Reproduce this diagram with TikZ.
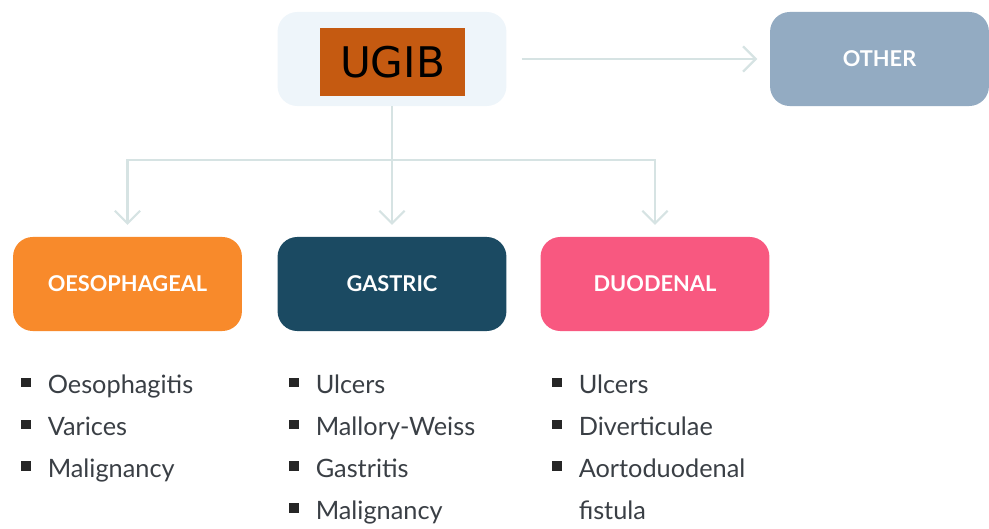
\documentclass[tikz,border=0pt]{standalone}
\usepackage{fontspec}
\setmainfont{Lato}
\newfontfamily\ugibfont{DejaVu Sans}
\usetikzlibrary{arrows.meta}

\definecolor{paleblue}{HTML}{EEF5FA}
\definecolor{linkgrey}{HTML}{D6E3E3}
\definecolor{othergrey}{HTML}{93ABC2}
\definecolor{oesoorange}{HTML}{F88A2B}
\definecolor{gastricteal}{HTML}{1B4A62}
\definecolor{duodpink}{HTML}{F85880}
\definecolor{ugibbrown}{HTML}{C55A11}
\definecolor{listgrey}{HTML}{3A3F45}

\newcommand{\sqbullet}{\textcolor{black!85}{\raisebox{0.25em}{\rule{0.38em}{0.38em}}}}

\begin{document}
\begin{tikzpicture}[x=0.025cm,y=0.025cm]
    \tikzset{
        box/.style={
            rounded corners=14pt,
            inner sep=0pt,outer sep=0pt,align=center,
            text=white,font=\fontsize{15.5}{18}\selectfont\bfseries
        },
        category/.style={box,minimum width=5.72cm,minimum height=2.35cm},
        itemlist/.style={anchor=north west,inner sep=0pt,text=listgrey,
            font=\fontsize{18}{29.8}\selectfont},
        flow/.style={-{Straight Barb[length=9pt,width=18pt,line width=1.6pt]},
            draw=linkgrey,line width=2pt}
    }
    \useasboundingbox (0,0) rectangle (989,528);

    % top row
    \node[category,fill=paleblue] (ugib-back) at (392,469) {};
    \node[fill=ugibbrown,minimum width=3.62cm,minimum height=1.7cm,
          inner sep=0pt,font=\ugibfont\fontsize{30}{32}\selectfont]
        (ugib) at (392.5,466) {UGIB};
    \node[category,fill=othergrey,minimum width=5.47cm] (other) at (879.5,469) {OTHER};

    % categories
    \node[category,fill=oesoorange] (oeso) at (127.5,244) {OESOPHAGEAL};
    \node[category,fill=gastricteal] (gastric) at (392,244) {GASTRIC};
    \node[category,fill=duodpink] (duod) at (655,244) {DUODENAL};

    \coordinate (split) at (392,368);

    \draw[flow,shorten <=0.38cm,shorten >=0.32cm] (ugib-back.east) -- (other.west);
    \draw[draw=linkgrey,line width=2pt] (ugib-back.south) -- (split);
    \draw[flow,shorten >=0.3cm] (split) -| (oeso.north);
    \draw[flow,shorten >=0.3cm] (split) -- (gastric.north);
    \draw[flow,shorten >=0.3cm] (split) -| (duod.north);

    % lists
    \node[itemlist] (oeso-list) at (21,164) {%
        \begin{tabular}{@{}l@{\hspace{12pt}}l@{}}
        \sqbullet & Oesophagitis\\
        \sqbullet & Varices\\
        \sqbullet & Malignancy
        \end{tabular}};
    \node[itemlist] (gastric-list) at (289,164) {%
        \begin{tabular}{@{}l@{\hspace{12pt}}l@{}}
        \sqbullet & Ulcers\\
        \sqbullet & Mallory-Weiss\\
        \sqbullet & Gastritis\\
        \sqbullet & Malignancy
        \end{tabular}};
    \node[itemlist] (duod-list) at (552,164) {%
        \begin{tabular}{@{}l@{\hspace{12pt}}l@{}}
        \sqbullet & Ulcers\\
        \sqbullet & Diverticulae\\
        \sqbullet & Aortoduodenal\\
                  & fistula
        \end{tabular}};
\end{tikzpicture}
\end{document}
